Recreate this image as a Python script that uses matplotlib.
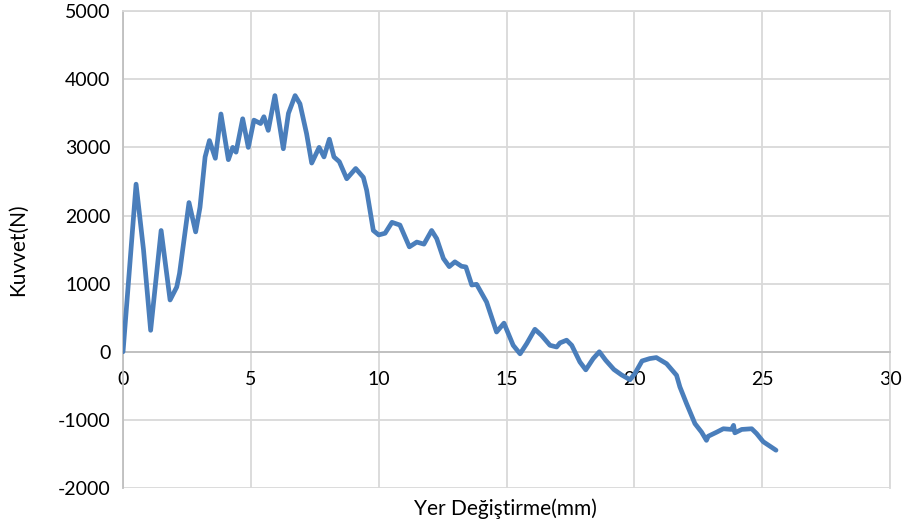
import numpy as np
import matplotlib
matplotlib.use('Agg')
import matplotlib.pyplot as plt

# displacement (mm) and force (N)
yer_degistirme = [0.0, 0.51, 0.80, 1.08, 1.49, 1.84, 2.10, 2.21, 2.58, 2.84, 3.01, 3.21,
                  3.38, 3.61, 3.83, 4.12, 4.29, 4.42, 4.68, 4.90, 5.12, 5.38, 5.51, 5.68,
                  5.94, 6.27, 6.47, 6.73, 6.92, 7.18, 7.38, 7.67, 7.86, 8.07, 8.25, 8.46,
                  8.75, 9.10, 9.40, 9.53, 9.79, 10.00, 10.25, 10.52, 10.83, 11.20, 11.49,
                  11.77, 12.07, 12.27, 12.53, 12.76, 12.98, 13.24, 13.41, 13.64, 13.83,
                  14.22, 14.61, 14.90, 15.26, 15.53, 15.79, 16.11, 16.37, 16.70, 16.96,
                  17.09, 17.35, 17.55, 17.87, 18.10, 18.39, 18.63, 18.88, 19.20, 19.50,
                  19.83, 20.02, 20.30, 20.60, 20.86, 21.26, 21.65, 21.78, 22.04, 22.37,
                  22.63, 22.82, 22.89, 23.22, 23.48, 23.80, 23.88, 23.93, 24.20, 24.59,
                  24.78, 25.04, 25.54]
kuvvet = [0, 2460, 1500, 315, 1780, 760, 950, 1150, 2190, 1760, 2120, 2860,
          3100, 2840, 3490, 2820, 3000, 2930, 3420, 3000, 3400, 3350, 3450, 3250,
          3760, 2980, 3500, 3760, 3640, 3200, 2770, 3000, 2860, 3120, 2860, 2790,
          2540, 2690, 2560, 2370, 1780, 1715, 1740, 1900, 1860, 1540, 1610,
          1580, 1780, 1660, 1370, 1250, 1320, 1255, 1245, 980, 990,
          730, 290, 420, 95, -30, 120, 330, 240, 95, 70,
          130, 170, 95, -150, -265, -100, 0, -125, -260, -340,
          -410, -320, -135, -100, -85, -175, -345, -515, -760, -1055,
          -1180, -1300, -1240, -1180, -1130, -1140, -1080, -1190, -1140, -1130,
          -1200, -1320, -1445]

x_ticks = [0, 5, 10, 15, 20, 25, 30]
y_ticks = [-2000, -1000, 0, 1000, 2000, 3000, 4000, 5000]

plt.rcParams['font.family'] = ['Lato', 'DejaVu Sans']
plt.rcParams['axes.unicode_minus'] = False

fig = plt.figure(figsize=(9.08, 5.30), dpi=100)
ax = fig.add_axes([0.1355, 0.0792, 0.8447, 0.8998])

ax.plot(yer_degistirme, kuvvet, color='#4A7EBB', linewidth=3.4,
        solid_capstyle='round', solid_joinstyle='round', zorder=3)

ax.set_xlim(0, 30)
ax.set_ylim(-2000, 5000)
ax.set_xticks(x_ticks)
ax.set_yticks(y_ticks)
ax.grid(True, color='#D9D9D9', linewidth=1.3)
ax.set_axisbelow(True)

# x axis crosses at y = 0
ax.spines['bottom'].set_position(('data', 0))
ax.spines['bottom'].set_color('#BFBFBF')
ax.spines['bottom'].set_linewidth(1.3)
ax.spines['left'].set_color('#BFBFBF')
ax.spines['left'].set_linewidth(1.3)
ax.spines['top'].set_color('#D9D9D9')
ax.spines['right'].set_color('#D9D9D9')
ax.spines['top'].set_linewidth(1.3)
ax.spines['right'].set_linewidth(1.3)

ax.tick_params(length=0, labelsize=14, colors='black', pad=9)
ax.tick_params(axis='x', pad=14)

fig.text(0.02, 0.529, 'Kuvvet(N)', rotation=90, ha='center', va='center', fontsize=15)
fig.text(0.557, 0.04, 'Yer Değiştirme(mm)', ha='center', va='center', fontsize=15)

fig.savefig('out.png', dpi=100)
plt.close(fig)
